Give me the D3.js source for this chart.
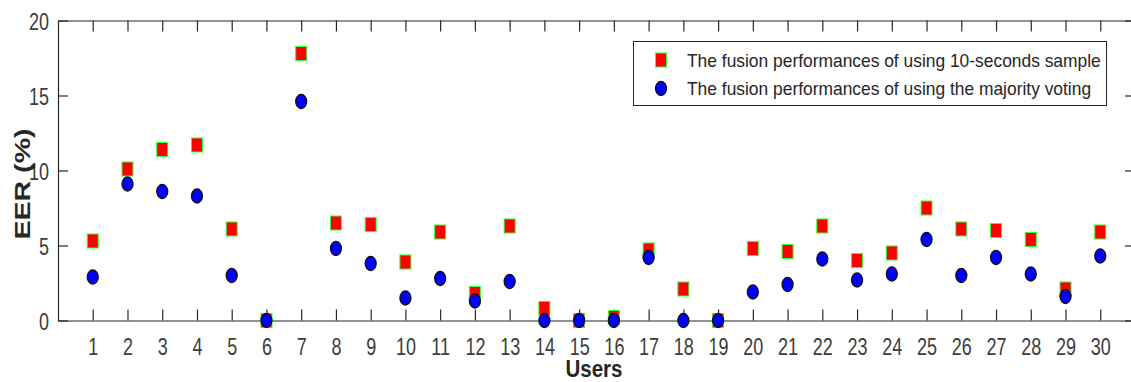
<!DOCTYPE html>
<html>
<head>
<meta charset="utf-8">
<script src="https://cdn.jsdelivr.net/npm/d3@7"></script>
<style>
  html, body { margin: 0; padding: 0; background: #fff; }
  svg { display: block; font-family: "Liberation Sans", Arial, Helvetica, sans-serif; }
</style>
</head>
<body>
<svg id="chart" width="1131" height="382"></svg>
<script>
// ---- data ----
const users = [1,2,3,4,5,6,7,8,9,10,11,12,13,14,15,16,17,18,19,20,21,22,23,24,25,26,27,28,29,30];
const tenSeconds = [5.3,10.1,11.4,11.7,6.1,0.0,17.8,6.5,6.4,3.9,5.9,1.8,6.3,0.8,0.0,0.2,4.7,2.1,0.0,4.8,4.6,6.3,4.0,4.5,7.5,6.1,6.0,5.4,2.1,5.9];
const majorityVoting = [2.9,9.1,8.6,8.3,3.0,0.0,14.6,4.8,3.8,1.5,2.8,1.3,2.6,0.0,0.0,0.0,4.2,0.0,0.0,1.9,2.4,4.1,2.7,3.1,5.4,3.0,4.2,3.1,1.6,4.3];
const yTicks = [0,5,10,15,20];
const seriesNames = ["The fusion performances of using 10-seconds sample",
                     "The fusion performances of using the majority voting"];
const xLabel = "Users";
const yLabel = "EER (%)";

// ---- layout ----
const svg = d3.select("#chart");
const axisColor = "#262626";
const labelColor = "#3c3c3c";
const x = d3.scaleLinear().domain([0, 31]).range([58, 1135]);
const y = d3.scaleLinear().domain([0, 20]).range([320.5, 20.5]);
const stretch = 1.3;

function styleAxis(g) {
  g.selectAll("path.domain").attr("stroke", axisColor).attr("stroke-width", 1.2);
  g.selectAll(".tick line").attr("stroke", axisColor).attr("stroke-width", 1.2);
}

// bottom axis
const gx = svg.append("g").attr("transform", `translate(0,${y(0)})`)
  .call(d3.axisBottom(x).tickValues(users).tickSize(-11).tickSizeOuter(0).tickFormat(d3.format("d")));
styleAxis(gx);
gx.selectAll(".tick text")
  .attr("y", 0).attr("dy", "0.35em")
  .attr("transform", `translate(0,26) scale(1,${stretch})`)
  .attr("fill", labelColor).style("font-size", "18px")
  .style("font-family", "'Liberation Sans', Arial, sans-serif");

// top border
const gt = svg.append("g").attr("transform", `translate(0,${y(20)})`)
  .call(d3.axisTop(x).tickValues(users).tickSize(-11).tickSizeOuter(0).tickFormat(""));
styleAxis(gt);

// left axis
const gy = svg.append("g").attr("transform", `translate(${x(0)},0)`)
  .call(d3.axisLeft(y).tickValues(yTicks).tickSize(-10).tickSizeOuter(0).tickFormat(d3.format("d")));
styleAxis(gy);
gy.selectAll(".tick text")
  .attr("x", 0).attr("dy", "0.35em")
  .attr("transform", `translate(-9,1) scale(1,${stretch})`)
  .attr("fill", labelColor).style("font-size", "18px")
  .style("font-family", "'Liberation Sans', Arial, sans-serif");

// right border
const gr = svg.append("g").attr("transform", `translate(${x(31)},0)`)
  .call(d3.axisRight(y).tickValues(yTicks).tickSize(-10).tickSizeOuter(0).tickFormat(""));
styleAxis(gr);

// axis titles
svg.append("text")
  .attr("transform", `translate(594,377) scale(1,1.15)`)
  .attr("text-anchor", "middle")
  .attr("fill", axisColor).style("font-size", "20.5px").style("font-weight", "bold")
  .text(xLabel);
svg.append("text")
  .attr("transform", `translate(30,184) rotate(-90) scale(${stretch},1)`)
  .attr("text-anchor", "middle")
  .attr("fill", axisColor).style("font-size", "22px").style("font-weight", "bold")
  .text(yLabel);

// ---- marks ----
const sqW = 11, sqH = 14;
const rx = 5.5, ry = 7;
const squareData = users.map((u, i) => ({u, v: tenSeconds[i]}));
const circleData = users.map((u, i) => ({u, v: majorityVoting[i]}));

svg.append("g").selectAll("rect").data(squareData).join("rect")
  .attr("x", d => x(d.u) - sqW / 2).attr("y", d => y(d.v) - sqH / 2)
  .attr("width", sqW).attr("height", sqH)
  .attr("fill", "#ff0000").attr("stroke", "#33ff33").attr("stroke-width", 1);

svg.append("g").selectAll("ellipse").data(circleData).join("ellipse")
  .attr("cx", d => x(d.u)).attr("cy", d => y(d.v))
  .attr("rx", rx).attr("ry", ry)
  .attr("fill", "#0000ff").attr("stroke", "#111").attr("stroke-width", 1.3);

// ---- legend ----
const lg = svg.append("g");
lg.append("rect").attr("x", 633.5).attr("y", 41.5).attr("width", 473).attr("height", 64)
  .attr("fill", "#fff").attr("stroke", axisColor).attr("stroke-width", 1);
const rows = [60, 88.5];
lg.append("rect").attr("x", 661 - sqW / 2).attr("y", rows[0] - sqH / 2)
  .attr("width", sqW).attr("height", sqH)
  .attr("fill", "#ff0000").attr("stroke", "#33ff33").attr("stroke-width", 1);
lg.append("ellipse").attr("cx", 661).attr("cy", rows[1]).attr("rx", rx).attr("ry", ry)
  .attr("fill", "#0000ff").attr("stroke", "#111").attr("stroke-width", 1.3);
seriesNames.forEach((name, i) => {
  lg.append("text")
    .attr("transform", `translate(687,${rows[i]}) scale(1,1.1)`)
    .attr("dy", "0.35em")
    .attr("fill", axisColor).style("font-size", "17.4px")
    .text(name);
});
</script>
</body>
</html>
